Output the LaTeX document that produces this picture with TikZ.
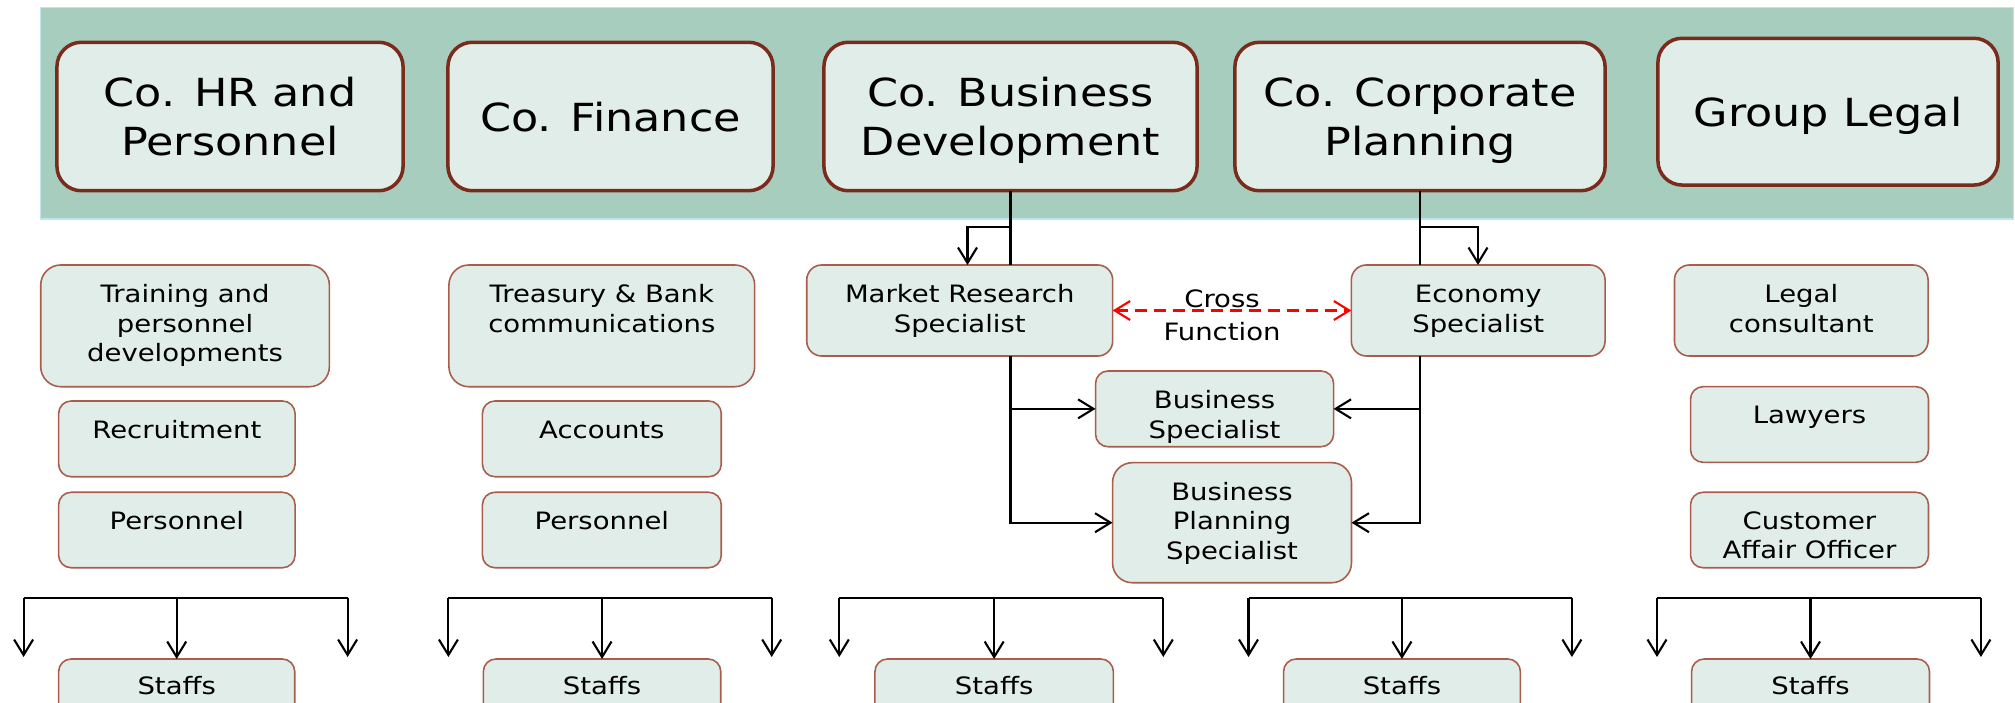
\documentclass[tikz,border=0pt]{standalone}
\usepackage{fontspec}
\newfontfamily\vfont{DejaVu Sans}[FakeStretch=1.15]
\usetikzlibrary{arrows.meta}
\definecolor{bandgreen}{HTML}{A7CDBF}
\definecolor{bandedge}{HTML}{BDE7EF}
\definecolor{boxfill}{HTML}{E1EDE8}
\definecolor{headborder}{HTML}{7A2C1C}
\definecolor{subborder}{HTML}{A85E4C}
\newcommand\hdfont{\vfont\fontsize{11}{14}\selectfont}
\newcommand\sbfont{\vfont\fontsize{6.8}{8.36}\selectfont}
\newcommand\crfont{\vfont\fontsize{6.8}{9.4}\selectfont}
% box macro: style, name, x1, y1, x2, y2 (pixel units)
\newcommand\bx[6]{%
  \pgfmathsetmacro\rr{0.165*min(#5-#3,#6-#4)*0.2845}%
  \node[#1, rounded corners=\rr pt, minimum width={(#5-#3)*0.2845pt},
        minimum height={(#6-#4)*0.2845pt}] (#2) at ({(#3+#5)/2},{(#4+#6)/2}) {};}
% text macro for sub boxes: name, box, offset(px), text
\newcommand\tx[4]{%
  \node[subtext, anchor=north] (#1) at ([yshift={-#3*0.2845pt}]#2.north) {\strut #4};}
\newcommand\htx[4]{%
  \node[headtext, anchor=north] (#1) at ([yshift={#3*0.2845pt}]#2.center) {\strut #4};}
\begin{document}
\begin{tikzpicture}[x=0.01cm,y=-0.01cm,
  headbox/.style={draw=headborder, line width=1pt, fill=boxfill, inner sep=0pt, outer sep=0pt},
  subbox/.style={draw=subborder, line width=0.45pt, fill=boxfill, inner sep=0pt, outer sep=0pt},
  headtext/.style={font=\hdfont, align=center, inner sep=0pt},
  subtext/.style={font=\sbfont, align=center, inner sep=0pt},
  plain/.style={draw=black, line width=0.6pt},
  conn/.style={plain, -{Straight Barb[length=4.4pt,width=5.4pt]}},
  crossconn/.style={draw=red, line width=0.6pt, dash pattern=on 3.4pt off 2pt,
     {Straight Barb[length=4.4pt,width=5.4pt]}-{Straight Barb[length=4.4pt,width=5.4pt]}}
]
\useasboundingbox (0,0) rectangle (2015,703);
\clip (0,0) rectangle (2015,703);
\fill[white] (0,0) rectangle (2015,703);
% band
\node[fill=bandgreen, draw=bandedge, line width=0.4pt, inner sep=0pt,
      minimum width={(2013-40.8)*0.2845pt}, minimum height={(219-7.3)*0.2845pt}]
      (band) at ({(40.8+2013)/2},{(7.3+219)/2}) {};
% header boxes
\bx{headbox}{hr}{57}{42.3}{403}{190.7}
\bx{headbox}{fi}{448}{42.3}{773}{190.7}
\bx{headbox}{bd}{824}{42.3}{1197}{190.7}
\bx{headbox}{cp}{1235}{42.3}{1605}{190.7}
\bx{headbox}{lg}{1658}{38.3}{1998}{185}
\htx{hrT}{hr}{44.95}{Co. HR and\\Personnel}
\htx{fiT}{fi}{20.3}{Co. Finance}
\htx{bdT}{bd}{44.95}{Co. Business\\Development}
\htx{cpT}{cp}{44.95}{Co. Corporate\\Planning}
\htx{lgT}{lg}{20.3}{Group Legal}
% sub boxes
\bx{subbox}{tr}{40.8}{265}{329.3}{386.7}
\bx{subbox}{rc}{58.7}{401}{295}{476.7}
\bx{subbox}{pa}{58.7}{492.3}{295}{567.7}
\bx{subbox}{ts}{449}{265}{754.6}{386.7}
\bx{subbox}{ac}{482.5}{401}{721.2}{476.7}
\bx{subbox}{pb}{482.5}{492.3}{721.2}{567.7}
\bx{subbox}{mr}{806.8}{265}{1112.6}{356}
\bx{subbox}{eco}{1351.4}{265}{1605}{356}
\bx{subbox}{bs}{1095.6}{371}{1333.5}{446.7}
\bx{subbox}{bp}{1112.6}{462.7}{1351.4}{582.7}
\bx{subbox}{lc}{1674.5}{265}{1928}{356}
\bx{subbox}{lw}{1690.6}{386.7}{1928.4}{462.3}
\bx{subbox}{ca}{1690.6}{492.3}{1928.4}{567.7}
\bx{subbox}{sa}{58.7}{659}{294.7}{735}
\bx{subbox}{sb}{483.4}{659}{720.7}{735}
\bx{subbox}{sc}{875}{659}{1113.3}{735}
\bx{subbox}{sd}{1283.6}{659}{1520.3}{735}
\bx{subbox}{se}{1691.6}{659}{1929.4}{735}
\tx{trT}{tr}{16.5}{Training and\\personnel\\developments}
\tx{rcT}{rc}{16}{Recruitment}
\tx{paT}{pa}{16}{Personnel}
\tx{tsT}{ts}{16.5}{Treasury \& Bank\\communications}
\tx{acT}{ac}{16}{Accounts}
\tx{pbT}{pb}{16}{Personnel}
\tx{mrT}{mr}{16.5}{Market Research\\Specialist}
\tx{ecoT}{eco}{16.5}{Economy\\Specialist}
\tx{bsT}{bs}{16.5}{Business\\Specialist}
\tx{bpT}{bp}{16.5}{Business\\Planning\\Specialist}
\tx{lcT}{lc}{16.5}{Legal\\consultant}
\tx{lwT}{lw}{16}{Lawyers}
\tx{caT}{ca}{16}{Customer\\Affair Officer}
\tx{saT}{sa}{14}{Staffs}
\tx{sbT}{sb}{14}{Staffs}
\tx{scT}{sc}{14}{Staffs}
\tx{sdT}{sd}{14}{Staffs}
\tx{seT}{se}{14}{Staffs}
% cross function
\node[font=\crfont, align=center, inner sep=0pt, anchor=north] (cf) at (1222,283.6) {\strut Cross\\Function};
\draw[crossconn] (mr.east) -- (eco.west);
% business development connectors
\coordinate (bdj) at (1010,227.3);
\coordinate (mrin) at (967.5,265);
\draw[plain] (bd.south) -- (bd.south |- mr.north);
\draw[conn] (bdj) -| (mrin);
\draw[conn] (bd.south |- mr.south) |- (bs.west);
\draw[conn] (bd.south |- mr.south) |- (bp.west);
% corporate planning connectors
\coordinate (cpj) at (1420,227.3);
\coordinate (ecin) at (1478,265);
\draw[plain] (cp.south) -- (cp.south |- eco.north);
\draw[conn] (cpj) -| (ecin);
\draw[conn] (cp.south |- eco.south) |- (bs.east);
\draw[conn] (cp.south |- eco.south) |- (bp.east);
% staff brackets
\foreach \n/\xl/\xr in {sa/23.6/347.6, sb/448.4/771.7, sc/839.3/1163.3, sd/1248.5/1571.9, se/1657/1980.9}{
  \coordinate (\n L) at (\xl,598);
  \coordinate (\n R) at (\xr,598);
  \coordinate (\n Lt) at (\xl,657);
  \coordinate (\n Rt) at (\xr,657);
  \draw[plain] (\n L) -- (\n R);
  \draw[conn] (\n L) -- (\n Lt);
  \draw[conn] (\n R) -- (\n Rt);
  \draw[conn] (\n.north |- \n L) -- (\n.north);
}
\end{tikzpicture}
\end{document}
